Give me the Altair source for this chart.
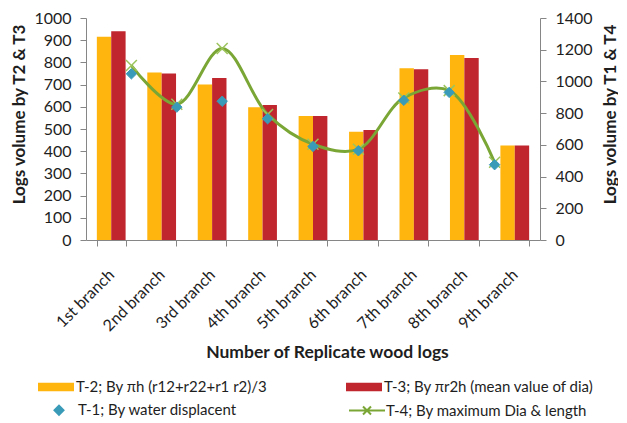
import altair as alt
import pandas as pd

categories = ["1st branch", "2nd branch", "3rd branch", "4th branch", "5th branch",
              "6th branch", "7th branch", "8th branch", "9th branch"]
t2_values = [915, 754, 700, 598, 558, 488, 774, 833, 426]
t3_values = [940, 750, 730, 608, 558, 496, 769, 820, 426]
t1_values = [1048, 838, 875, 765, 590, 563, 881, 931, 475]
t4_values = [1100, 856, 1208, 792, 604, 573, 896, 942, 490]

lab_t2 = "T-2; By \u03c0h (r12+r22+r1 r2)/3"
lab_t3 = "T-3; By \u03c0r2h (mean value of dia)"
lab_t1 = "T-1; By water displacent"
lab_t4 = "T-4; By maximum Dia & length"

ORANGE = "#FFB50D"
RED = "#C0262D"
TEAL = "#3A9BB8"
GREEN = "#7AA636"
GREEN_LIGHT = "#9CC45C"
TXT = "#1E1E1E"
FONT = "Lato"

bar_df = pd.DataFrame({
    "branch": categories * 2,
    "series": [lab_t2] * len(categories) + [lab_t3] * len(categories),
    "value": t2_values + t3_values,
})
line_df = pd.DataFrame({
    "idx": list(range(len(categories))),
    "t4": t4_values,
})
pts_df = pd.DataFrame({
    "idx": list(range(len(categories))),
    "value": t1_values,
    "pseries": [lab_t1] * len(categories),
})

rect_path = "M-1.8,-0.42H1.8V0.42H-1.8Z"
line_x_path = "M-1.8,0H1.8M-0.4,-0.4L0.4,0.4M-0.4,0.4L0.4,-0.4"
diamond_path = "M0,-0.45L0.45,0L0,0.45L-0.45,0Z"
x_path = "M-1,-1L1,1M-1,1L1,-1"

bar_legend = alt.Legend(orient="none", legendX=-40, legendY=359, direction="horizontal",
                        columns=2, title=None, symbolType=rect_path, symbolSize=400,
                        symbolStrokeWidth=0, labelOffset=10, columnPadding=78,
                        labelFontSize=15, labelFont=FONT, labelColor=TXT, labelLimit=400,
                        padding=0)

bars = alt.Chart(bar_df).mark_bar().encode(
    x=alt.X("branch:N", sort=categories,
            scale=alt.Scale(paddingInner=0.43, paddingOuter=0.215),
            axis=alt.Axis(title="Number of Replicate wood logs", labelAngle=315,
                          labelAlign="right", labelBaseline="middle", tickBand="extent",
                          labelFontSize=16, labelPadding=26, titleFontSize=17.5,
                          titleX=241, titleY=112, titleBaseline="middle")),
    xOffset=alt.XOffset("series:N", sort=[lab_t2, lab_t3]),
    y=alt.Y("value:Q", scale=alt.Scale(domain=[0, 1000], nice=False),
            axis=alt.Axis(title="Logs volume  by T2 & T3", values=list(range(0, 1001, 100)),
                          format="d", labelFontSize=16, titleFontSize=17,
                          titleAngle=270, titleX=-67, titleY=96, titleAlign="center",
                          titleBaseline="middle")),
    color=alt.Color("series:N", scale=alt.Scale(domain=[lab_t2, lab_t3], range=[ORANGE, RED]),
                    legend=bar_legend),
)

x_line = alt.X("idx:Q", scale=alt.Scale(domain=[-1, 9], nice=False, zero=False), axis=None)


def y_right(field):
    return alt.Y(field, type="quantitative", scale=alt.Scale(domain=[0, 1400], nice=False),
                 axis=alt.Axis(orient="right", title="Logs volume  by T1 & T4",
                               values=list(range(0, 1401, 200)), format="d",
                               labelFontSize=16, titleFontSize=17, titleAngle=270,
                               titleX=70, titleY=96, titleAlign="center",
                               titleBaseline="middle"))


pt_domain = [lab_t1, lab_t4]
pt_legend = alt.Legend(orient="none", legendX=-38, legendY=381, direction="horizontal",
                       columns=2, title=None, symbolSize=400, symbolStrokeWidth=2,
                       labelOffset=8, columnPadding=107, labelFontSize=15,
                       labelFont=FONT, labelColor=TXT, labelLimit=400, padding=0)

line = alt.Chart(line_df).mark_line(interpolate="catmull-rom", color=GREEN, strokeWidth=3).encode(
    x=x_line, y=y_right("t4"))
xmarks = alt.Chart(line_df).mark_point(shape=x_path, size=120, strokeWidth=1.5,
                                       color=GREEN_LIGHT, filled=False, opacity=1).encode(
    x=x_line, y=y_right("t4"))
pts = alt.Chart(pts_df).mark_point(filled=True, size=540, opacity=1, strokeWidth=1).encode(
    x=x_line, y=y_right("value"),
    fill=alt.Fill("pseries:N", scale=alt.Scale(domain=pt_domain, range=[TEAL, GREEN]),
                  legend=pt_legend),
    stroke=alt.Stroke("pseries:N", scale=alt.Scale(domain=pt_domain, range=[TEAL, GREEN]),
                      legend=pt_legend),
    shape=alt.Shape("pseries:N", scale=alt.Scale(domain=pt_domain,
                                                 range=[diamond_path, line_x_path]),
                    legend=pt_legend),
)

inner = alt.layer(line, xmarks, pts)

chart = alt.layer(bars, inner).resolve_scale(
    x="independent", y="independent"
).properties(
    width=454, height=222, padding={"left": 2, "right": 0, "top": 2, "bottom": 0}
).configure(font=FONT).configure_view(stroke=None).configure_axis(
    grid=False, domainColor="#868686", tickColor="#868686", tickSize=6,
    labelFont=FONT, labelFontSize=16, labelColor=TXT, labelPadding=9,
    titleFont=FONT, titleFontSize=17.5, titleFontWeight="bold", titleColor=TXT
)

chart.save("out.html", embed_options={"renderer": "svg", "actions": False})
